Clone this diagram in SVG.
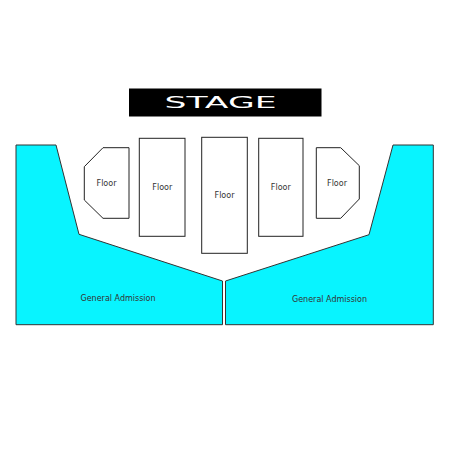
<svg xmlns="http://www.w3.org/2000/svg" width="450" height="450" viewBox="0 0 450 450">
<style>
.ga{fill:#08f4ff;stroke:#333;stroke-width:1}
.fl{fill:#fff;stroke:#222;stroke-width:1}
.t{font-family:"DejaVu Sans","Liberation Sans",sans-serif;font-size:8px;fill:#333;text-anchor:middle}
</style>
<rect width="450" height="450" fill="#fff"/>
<g id="stage">
<rect x="129" y="88.5" width="192.5" height="28" fill="#000"/>
<text x="220.5" y="107.5" font-family="DejaVu Sans,sans-serif" font-size="15" fill="#fff" text-anchor="middle" textLength="112" lengthAdjust="spacingAndGlyphs">STAGE</text>
</g>
<g id="ga-left">
<polygon class="ga" points="16,145 56,145 79,234.3 222.5,281 222.5,324.7 16,324.7"/>
<text class="t" x="118" y="301">General Admission</text>
</g>
<g id="ga-right">
<polygon class="ga" points="393,145 433.3,145 433.3,324.7 225.5,324.7 225.5,281 369,234.7"/>
<text class="t" x="329.5" y="302">General Admission</text>
</g>
<g id="floor-1">
<polygon class="fl" points="103,147.7 129,147.7 129,218.3 103,218.3 84.3,200 84.3,166.7"/>
<text class="t" x="106.5" y="185.5">Floor</text>
</g>
<g id="floor-2">
<rect class="fl" x="139.3" y="138.3" width="45.7" height="98"/>
<text class="t" x="162.3" y="190">Floor</text>
</g>
<g id="floor-3">
<rect class="fl" x="201.7" y="137.3" width="45.6" height="116"/>
<text class="t" x="224.5" y="198">Floor</text>
</g>
<g id="floor-4">
<rect class="fl" x="258.7" y="138.3" width="44.3" height="98"/>
<text class="t" x="280.8" y="190">Floor</text>
</g>
<g id="floor-5">
<polygon class="fl" points="316.3,147.7 340.7,147.7 359.3,165.7 359.3,199 340.7,218.3 316.3,218.3"/>
<text class="t" x="337" y="185.5">Floor</text>
</g>
</svg>
